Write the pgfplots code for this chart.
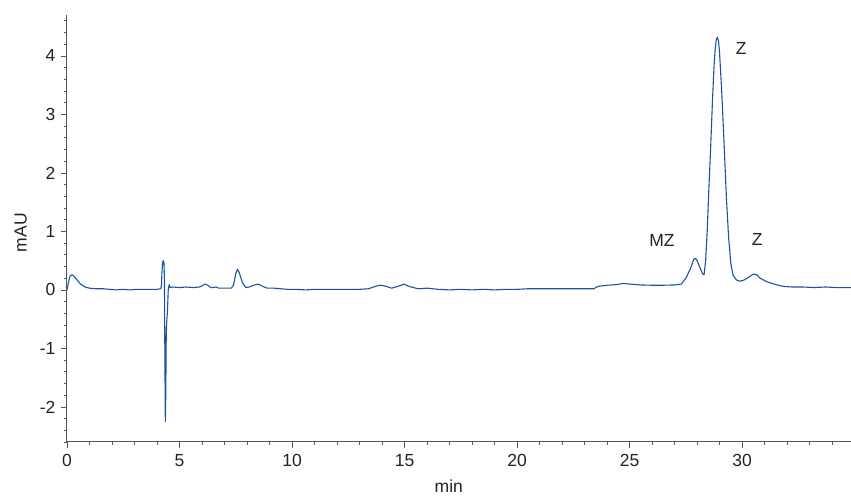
\documentclass[border=0pt]{standalone}
\usepackage{fontspec}
\setmainfont{Liberation Sans}
\usepackage{pgfplots}
\pgfplotsset{compat=1.18}
\definecolor{lineblue}{RGB}{28,82,165}
\definecolor{axiscol}{RGB}{85,85,85}
\definecolor{txt}{RGB}{35,35,35}
\begin{document}
\begin{tikzpicture}
\useasboundingbox (-67pt,-55pt) rectangle (784pt,442pt);
\begin{axis}[
  scale only axis,
  width=784pt, height=427pt,
  xmin=0, xmax=34.84,
  ymin=-2.6, ymax=4.7,
  axis x line=bottom, axis y line=left,
  axis line style={-, axiscol, line width=1pt},
  tick align=outside,
  xtick distance=5, ytick distance=1,
  minor x tick num=4, minor y tick num=4,
  major tick length=6pt, minor tick length=3pt,
  every tick/.style={axiscol, line width=0.8pt},
  tick label style={font=\fontsize{17.5}{20}\selectfont, text=txt},
  /pgf/number format/assume math mode=true,
  yticklabel style={xshift=-2pt},
  xticklabel style={yshift=-3pt},
  xlabel={min}, ylabel={mAU},
  label style={font=\fontsize{17.5}{20}\selectfont, text=txt},
  xlabel style={at={(axis description cs:0.487,-0.104)}, anchor=center, inner sep=1pt},
  ylabel style={at={(axis description cs:-0.059,0.49)}, anchor=center, rotate=0},
  clip=false,
]
\addplot[lineblue, line width=1.1pt, line join=round] coordinates {
(0,0.0) (0.05,0.1) (0.12,0.22) (0.21,0.26) (0.3,0.24) (0.45,0.17) (0.6,0.1) (0.8,0.05)
(1.0,0.03) (1.3,0.02) (1.6,0.02) (1.9,0.01) (2.2,0.0) (2.5,0.01) (2.8,0.0) (3.1,0.01)
(3.4,0.01) (3.7,0.01) (4.0,0.01) (4.17,0.02) (4.2,0.1) (4.22,0.3) (4.25,0.47) (4.28,0.5)
(4.31,0.45) (4.33,0.2) (4.35,-1.2) (4.37,-2.25) (4.39,-1.8) (4.41,-0.8) (4.43,-0.55)
(4.46,-0.4) (4.5,0.0) (4.54,0.09) (4.58,0.04) (4.7,0.05) (5.0,0.04) (5.3,0.05) (5.6,0.04)
(5.9,0.05) (6.0,0.07) (6.13,0.1) (6.25,0.08) (6.4,0.04) (6.5,0.04) (6.62,0.05) (6.75,0.03)
(7.0,0.03) (7.3,0.03) (7.4,0.08) (7.5,0.28) (7.57,0.35) (7.65,0.3) (7.8,0.12) (7.95,0.04)
(8.1,0.05) (8.3,0.08) (8.5,0.1) (8.7,0.06) (8.9,0.03) (9.2,0.03) (9.5,0.02) (9.8,0.01)
(10.2,0.01) (10.6,0.0) (11.0,0.01) (11.5,0.01) (12.0,0.01) (12.5,0.01) (13.0,0.01)
(13.4,0.02) (13.7,0.06) (13.9,0.08) (14.1,0.07) (14.43,0.03) (14.7,0.06) (14.98,0.1)
(15.2,0.06) (15.6,0.02) (16.0,0.03) (16.5,0.01) (17.0,0.0) (17.5,0.01) (18.0,0.0)
(18.5,0.01) (19.0,0.0) (19.5,0.01) (20.0,0.01) (20.5,0.02) (21.0,0.02) (21.5,0.02)
(22.0,0.02) (22.5,0.02) (23.0,0.02) (23.4,0.02) (23.6,0.06) (24.0,0.08) (24.4,0.09)
(24.7,0.11) (25.0,0.1) (25.5,0.085) (26.0,0.08) (26.5,0.08) (27.0,0.085) (27.3,0.1)
(27.5,0.2) (27.7,0.36) (27.85,0.52) (27.93,0.54) (28.0,0.5) (28.13,0.38) (28.25,0.27)
(28.31,0.26) (28.38,0.5) (28.45,1.0) (28.52,1.7) (28.6,2.4) (28.68,3.2) (28.75,3.8)
(28.8,4.1) (28.85,4.27) (28.9,4.32) (28.95,4.26) (29.0,4.05) (29.1,3.35) (29.2,2.5)
(29.3,1.6) (29.4,0.9) (29.5,0.45)
(29.6,0.25) (29.75,0.17) (29.9,0.15) (30.1,0.17) (30.3,0.22) (30.5,0.27) (30.65,0.26)
(30.8,0.2) (31.1,0.14) (31.5,0.09) (31.84,0.06) (32.2,0.05) (32.7,0.05) (33.2,0.04)
(33.7,0.05) (34.2,0.04) (34.84,0.04)
};
\node[font=\fontsize{17.5}{20}\selectfont, text=txt] at (axis cs:29.96,4.12) {Z};
\node[font=\fontsize{17.5}{20}\selectfont, text=txt] at (axis cs:26.44,0.84) {MZ};
\node[font=\fontsize{17.5}{20}\selectfont, text=txt] at (axis cs:30.67,0.87) {Z};
\end{axis}
\end{tikzpicture}
\end{document}
